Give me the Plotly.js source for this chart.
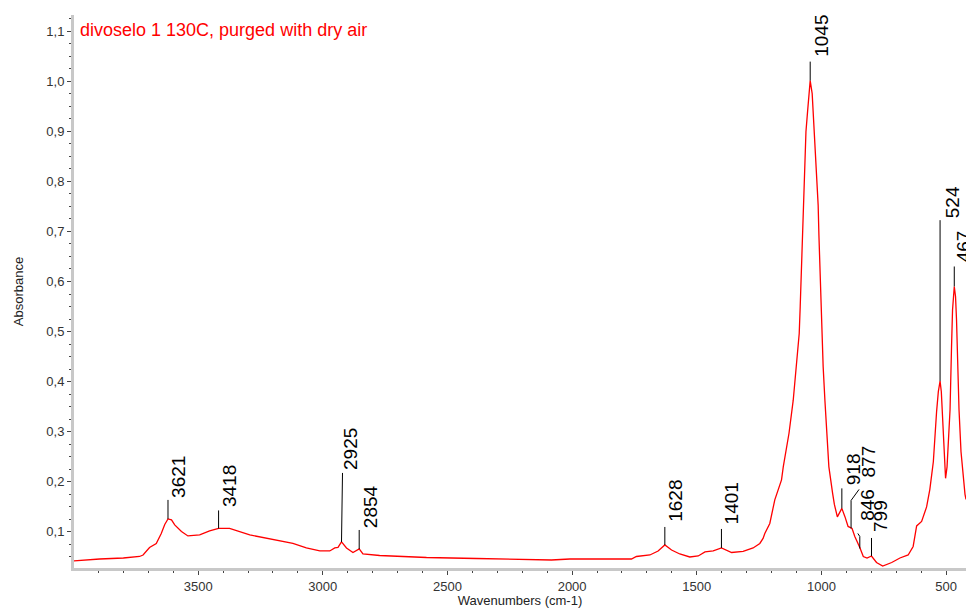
<!DOCTYPE html>
<html>
<head>
<meta charset="utf-8">
<script src="https://cdn.plot.ly/plotly-3.0.1.min.js"></script>
<style>html,body{margin:0;padding:0;background:#fff;}#chart{width:966px;height:608px;}</style>
</head>
<body>
<div id="chart"></div>
<script>
// ---- data ----
const wavenumber = [4000,3895,3800,3735,3721,3695,3668,3648,3634,3621,3607,3594,3567,3541,3494,3454,3418,3374,3293,3200,3120,3066,3012,2972,2952,2939,2925,2905,2879,2854,2839,2772,2691,2584,2384,2083,2009,1762,1742,1688,1655,1628,1601,1568,1528,1494,1467,1434,1401,1380,1360,1314,1274,1247,1234,1227,1207,1187,1160,1153,1130,1113,1100,1089,1085,1081,1077,1073,1070,1066,1062,1055,1050,1045,1037,1033,1026,1019,1013,1010,1006,1002,999,996,993,986,979,970,955,948,936,918,906,893,877,866,846,832,817,799,779,754,718,685,652,632,618,598,578,565,551,545,538,531,524,519,515,511,506,502,496,491,484,478,474,467,462,458,454,448,440,432,424,420];
const absorbance = [0.042,0.046,0.048,0.051,0.054,0.069,0.077,0.097,0.115,0.126,0.124,0.114,0.101,0.092,0.094,0.102,0.107,0.107,0.094,0.085,0.077,0.068,0.062,0.062,0.068,0.069,0.080,0.068,0.059,0.066,0.056,0.053,0.051,0.049,0.047,0.044,0.046,0.046,0.051,0.054,0.062,0.074,0.064,0.056,0.050,0.052,0.060,0.062,0.068,0.064,0.059,0.061,0.068,0.077,0.087,0.097,0.117,0.164,0.204,0.230,0.297,0.363,0.430,0.496,0.550,0.605,0.660,0.733,0.789,0.846,0.899,0.942,0.982,1.001,0.975,0.936,0.862,0.812,0.752,0.693,0.629,0.570,0.520,0.475,0.430,0.363,0.297,0.230,0.177,0.155,0.130,0.147,0.131,0.111,0.107,0.091,0.069,0.051,0.048,0.052,0.039,0.032,0.039,0.048,0.054,0.071,0.112,0.121,0.150,0.185,0.240,0.290,0.340,0.380,0.401,0.380,0.343,0.300,0.240,0.207,0.230,0.280,0.344,0.470,0.543,0.590,0.570,0.523,0.450,0.344,0.260,0.210,0.175,0.165];

const peakLabels = ['3621','3418','2925','2854','1628','1401','1045','918','877','846','799','524','467'];
const peakWavenumber = [3621,3418,2925,2854,1628,1401,1045,918,877,846,799,524,467];
const peakAbsorbance = [0.126,0.107,0.080,0.066,0.074,0.068,1.001,0.147,0.107,0.069,0.052,0.401,0.590];

const yTickValues = [0.1,0.2,0.3,0.4,0.5,0.6,0.7,0.8,0.9,1.0,1.1];
const xTickValues = [3500,3000,2500,2000,1500,1000,500];

const chartTitle = 'divoselo 1 130C, purged with dry air';
const xTitle = 'Wavenumbers (cm-1)';
const yTitle = 'Absorbance';

// ---- label placement (pixel offsets from each peak, layout only) ----
const labelPlacement = [
  {path:'M0,0V19',  dx:-1.5, dy:19},
  {path:'M0,0V18',  dx:-1.5, dy:19},
  {path:'M0,0L1,69',dx:-3,   dy:70},
  {path:'M0,0V19',  dx:-1,   dy:19},
  {path:'M0,0V18',  dx:-1.5, dy:21},
  {path:'M0,0V19',  dx:-1.5, dy:22},
  {path:'M0,0V19',  dx:-1.5, dy:22},
  {path:'M0,0V20',  dx:-0.5, dy:21},
  {path:'M-1,0V28L7,39', dx:3.5, dy:49},
  {path:'M0,-1V11L-2,14', dx:-5, dy:25},
  {path:'M0,0V18',  dx:-3,   dy:22},
  {path:'M0,0V161', dx:-0.5, dy:161},
  {path:'M0,0V20',  dx:-3,   dy:22}
];

const FONT = 'Liberation Sans, Arial, sans-serif';

const shapes = peakLabels.map((t,i)=>({
  type:'path', xref:'x', yref:'y', xsizemode:'pixel', ysizemode:'pixel',
  xanchor: peakWavenumber[i], yanchor: peakAbsorbance[i],
  path: labelPlacement[i].path,
  line:{color:'#000', width:1}
}));

const annotations = peakLabels.map((t,i)=>({
  xref:'x', yref:'y', x: peakWavenumber[i], y: peakAbsorbance[i],
  text: t, showarrow:false, textangle:-90,
  xanchor:'left', yanchor:'bottom',
  xshift: labelPlacement[i].dx, yshift: labelPlacement[i].dy,
  font:{family:FONT, size:19, color:'#000'}
}));

annotations.push({
  xref:'paper', yref:'paper', x:0.0045, y:0.972, xanchor:'left', yanchor:'middle',
  text: chartTitle, showarrow:false,
  font:{family:FONT, size:18, color:'#ff0000'}
});

const trace = {
  type:'scatter', mode:'lines', x: wavenumber, y: absorbance,
  line:{color:'#ff0000', width:1.3}, hoverinfo:'skip'
};

const layout = {
  width:966, height:608,
  margin:{l:74, r:0, t:15, b:40},
  paper_bgcolor:'#fff', plot_bgcolor:'#fff',
  separators:',.',
  showlegend:false,
  font:{family:FONT, color:'#333'},
  xaxis:{
    range:[3998,420], tickvals:xTickValues,
    ticks:'outside', ticklen:4, tickcolor:'#444', tickwidth:1,
    showline:true, linecolor:'#c8c8c8', linewidth:3,
    showgrid:false, zeroline:false,
    minor:{dtick:100, tick0:0, ticks:'outside', ticklen:2, tickcolor:'#444', showgrid:false},
    tickfont:{family:FONT, size:13, color:'#333'},
    title:{text:xTitle, font:{family:FONT, size:13, color:'#222'}, standoff:8}
  },
  yaxis:{
    range:[0.028,1.132], tickvals:yTickValues, tickformat:'.1f',
    ticks:'outside', ticklen:4, tickcolor:'#444', tickwidth:1,
    showline:true, linecolor:'#c8c8c8', linewidth:3,
    showgrid:false, zeroline:false,
    minor:{dtick:0.025, tick0:0, ticks:'outside', ticklen:2, tickcolor:'#444', showgrid:false},
    tickfont:{family:FONT, size:13, color:'#333'},
    title:{text:yTitle, font:{family:FONT, size:13, color:'#222'}, standoff:20}
  },
  shapes: shapes,
  annotations: annotations
};

Plotly.newPlot('chart', [trace], layout, {displayModeBar:false, staticPlot:true});
</script>
</body>
</html>
